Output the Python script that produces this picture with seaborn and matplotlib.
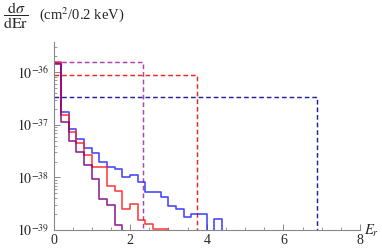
import numpy as np
import pandas as pd
import matplotlib
matplotlib.use("Agg")
import matplotlib.pyplot as plt
import seaborn as sns
from matplotlib.ticker import LogLocator, NullFormatter, MultipleLocator

# ---- data ----
bin_width = 0.2
blue_vals = [1.5e-36, 1.72e-37, 8.2e-38, 5.5e-38, 3.6e-38, 2.9e-38, 2.0e-38, 1.6e-38,
             1.43e-38, 1.0e-38, 1.1e-38, 8.1e-39, 5.3e-39, 5.3e-39, 4.2e-39, 2.9e-39,
             2.5e-39, 1.8e-39, 2.0e-39, 2.0e-39, 0.0, 1.6e-39]
red_vals = [1.55e-36, 1.52e-37, 7.3e-38, 4.6e-38, 2.7e-38, 1.6e-38, 1.55e-38, 6.8e-39,
            5.4e-39, 2.5e-39, 3.1e-39, 1.55e-39, 1.3e-39, 1.06e-39, 1.06e-39]
purple_vals = [1.42e-36, 1.15e-37, 5.0e-38, 3.0e-38, 1.7e-38, 9.3e-39, 3.9e-39, 3.0e-39,
               1.25e-39]
series_names = ["blue", "red", "purple"]
series_colors = ["#2b2bff", "#ff2222", "#800080"]

dash_levels = [1.6e-36, 8.9e-37, 3.35e-37]
dash_ends = [2.33, 3.75, 6.89]
dash_colors = ["#b040b0", "#e82828", "#22229a"]

x_ticks = [0, 2, 4, 6, 8]
y_ticks = [1e-39, 1e-38, 1e-37, 1e-36]
y_min, y_max = 1e-39, 10 ** -35.424
floor = 1e-45

# ---- build long table ----
rows = []
for name, vals in zip(series_names, [blue_vals, red_vals, purple_vals]):
    v = list(vals) + [0.0]
    for i, val in enumerate(v):
        rows.append({"E": i * bin_width, "v": val if val > 0 else floor, "s": name})
df = pd.DataFrame(rows)

sns.set_style("ticks")
plt.rcParams["font.family"] = ["Liberation Serif", "DejaVu Serif"]
plt.rcParams["mathtext.fontset"] = "stix"

fig = plt.figure(figsize=(3.82, 2.49), dpi=100)
ax = fig.add_axes([53.5 / 382, 1 - 230 / 249, (360 - 53.5) / 382, (230 - 42) / 249])
ax.set_yscale("log")

sns.lineplot(data=df, x="E", y="v", hue="s", hue_order=series_names,
             palette=dict(zip(series_names, series_colors)), drawstyle="steps-post",
             estimator=None, legend=False, linewidth=1.2, alpha=0.85, ax=ax)

for lvl, end, col in zip(dash_levels, dash_ends, dash_colors):
    ax.plot([0, end, end], [lvl, lvl, floor], color=col, lw=1.05,
            dashes=(3.2, 2.0), zorder=1)

ax.set_xlim(0, 8)
ax.set_ylim(y_min, y_max)
ax.set_xticks(x_ticks)
ax.xaxis.set_minor_locator(MultipleLocator(0.5))
ax.set_yticks(y_ticks)
ax.set_yticklabels([r"$10^{%d}$" % int(np.log10(t)) for t in y_ticks])
ax.yaxis.set_minor_locator(LogLocator(base=10, subs=np.arange(2, 10)))
ax.yaxis.set_minor_formatter(NullFormatter())
ax.set_xlabel("")
ax.set_ylabel("")

for s in ["top", "right"]:
    ax.spines[s].set_visible(False)
for s in ["left", "bottom"]:
    ax.spines[s].set_color("#888888")
    ax.spines[s].set_linewidth(0.8)
ax.tick_params(which="major", direction="in", length=4, width=0.7, color="#888888",
               labelsize=10, pad=3)
ax.tick_params(which="minor", direction="in", length=2, width=0.6, color="#888888")

fig.text(3 / 382, 1 - 16 / 249, r"$\dfrac{\mathrm{d}\sigma}{\mathrm{dEr}}$",
         fontsize=11.5, va="center", ha="left")
fig.text(39 / 382, 1 - 15 / 249, r"(cm$^{2}$/0.2 keV)", fontsize=10.5,
         va="center", ha="left")
fig.text(364 / 382, 1 - 231 / 249, r"$E_r$", fontsize=10.5, va="center", ha="left")

fig.savefig("out.png", dpi=100)
